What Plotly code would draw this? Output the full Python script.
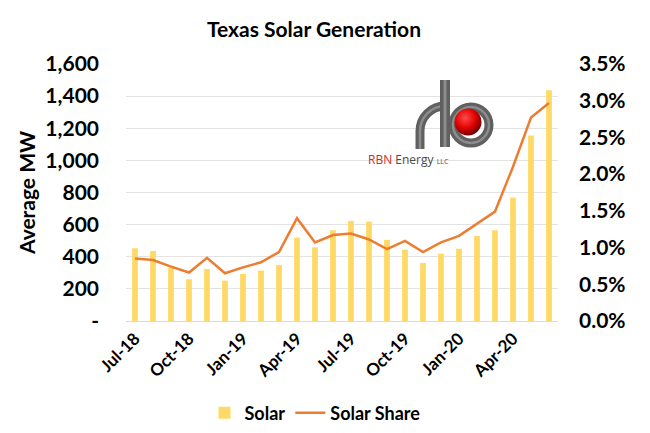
import base64
import plotly.graph_objects as go

months = ["Jul-18", "Aug-18", "Sep-18", "Oct-18", "Nov-18", "Dec-18",
          "Jan-19", "Feb-19", "Mar-19", "Apr-19", "May-19", "Jun-19",
          "Jul-19", "Aug-19", "Sep-19", "Oct-19", "Nov-19", "Dec-19",
          "Jan-20", "Feb-20", "Mar-20", "Apr-20", "May-20", "Jun-20"]
solar_mw = [453, 436, 330, 260, 324, 251, 293, 314, 349, 519, 459, 565,
            623, 619, 505, 444, 361, 419, 450, 530, 565, 768, 1155, 1437]
solar_share = [0.0085, 0.0083, 0.0074, 0.0066, 0.0086, 0.0065, 0.0073, 0.0080,
               0.0094, 0.0140, 0.0107, 0.0117, 0.0119, 0.0111, 0.0098, 0.0109,
               0.0094, 0.0107, 0.0116, 0.0133, 0.0149, 0.0210, 0.0277, 0.0297]
x_tick_labels = ["Jul-18", "Oct-18", "Jan-19", "Apr-19", "Jul-19", "Oct-19", "Jan-20", "Apr-20"]
y_tick_vals = [0, 200, 400, 600, 800, 1000, 1200, 1400, 1600]
y_tick_text = ["-", "200", "400", "600", "800", "1,000", "1,200", "1,400", "1,600"]
y2_tick_vals = [0, 0.005, 0.01, 0.015, 0.02, 0.025, 0.03, 0.035]
y2_tick_text = ["0.0%", "0.5%", "1.0%", "1.5%", "2.0%", "2.5%", "3.0%", "3.5%"]

FONT = "Lato"
W, H = 650, 433
ML, MR, MT, MB = 126, 92, 64, 112
PW, PH = W - ML - MR, H - MT - MB


def px2paper(px, py):
    return (px - ML) / PW, (H - MB - py) / PH


fig = go.Figure()
fig.add_trace(go.Bar(x=months, y=solar_mw, name="<b>Solar</b>", marker_color="#FFD966",
                     marker_line_width=0))
fig.add_trace(go.Scatter(x=months, y=solar_share, name="<b>Solar Share</b>", yaxis="y2",
                         mode="lines", line=dict(color="#ED7D31", width=2.5)))

# logo graphic (text kept as annotation)
svg = '''<svg xmlns="http://www.w3.org/2000/svg" width="95" height="80" viewBox="405 75 95 80">
<defs>
<radialGradient id="rg" cx="0.4" cy="0.35" r="0.7">
<stop offset="0" stop-color="#ff4a4a"/><stop offset="0.55" stop-color="#e00000"/><stop offset="1" stop-color="#5a0000"/>
</radialGradient>
</defs>
<circle cx="471" cy="125" r="18" fill="none" stroke="#606060" stroke-width="9"/>
<circle cx="471" cy="125" r="18" fill="none" stroke="#8c8c8c" stroke-width="2.5"/>
<path d="M420 149 L420 131 A25 25 0 0 1 445 106" fill="none" stroke="#606060" stroke-width="9"/>
<path d="M420 149 L420 131 A25 25 0 0 1 445 106" fill="none" stroke="#8c8c8c" stroke-width="2.5"/>
<path d="M445 80 L445 147" stroke="#606060" stroke-width="10"/>
<path d="M445 80 L445 147" stroke="#8c8c8c" stroke-width="3"/>
<circle cx="468" cy="122" r="13.5" fill="url(#rg)"/>
</svg>'''
src = "data:image/svg+xml;base64," + base64.b64encode(svg.encode()).decode()
x0, y0 = px2paper(405, 75)
x1, y1 = px2paper(500, 155)
fig.add_layout_image(dict(source=src, xref="paper", yref="paper", x=x0, y=y0,
                          sizex=x1 - x0, sizey=y0 - y1, xanchor="left", yanchor="top",
                          sizing="stretch", layer="above"))
tx, ty = px2paper(451, 159)
fig.add_annotation(xref="paper", yref="paper", x=tx, y=ty, showarrow=False,
                   text='<span style="color:#d42a2a">RBN</span> Energy <span style="font-size:7px">LLC</span>',
                   font=dict(family="Open Sans", size=12, color="#4a4a4a"))

fig.update_layout(
    width=W, height=H,
    margin=dict(l=ML, r=MR, t=MT, b=MB, autoexpand=False),
    paper_bgcolor="white", plot_bgcolor="white",
    font=dict(family=FONT, color="#000000"),
    title=dict(text="<b>Texas Solar Generation</b>", x=(314 - ML) / PW, xref="paper",
               xanchor="center", y=1 - 30 / H, yanchor="middle",
               font=dict(family=FONT, size=21, color="#000000")),
    bargap=0.68,
    showlegend=True,
    legend=dict(orientation="h", x=(315 - ML) / PW, xanchor="center",
                y=(H - MB - 413) / PH, yanchor="middle",
                font=dict(family=FONT, size=18, color="#000000"),
                itemwidth=30, tracegroupgap=0),
    xaxis=dict(type="category", tickmode="array", tickvals=x_tick_labels,
               ticktext=["<b>%s</b>" % t for t in x_tick_labels],
               tickangle=-45, tickfont=dict(family=FONT, size=17, color="#000000"),
               showgrid=False, showline=True, linecolor="#D9D9D9", linewidth=1,
               ticks="", range=[-0.5, len(months) - 0.5], automargin=False),
    yaxis=dict(range=[0, 1600], tickmode="array", tickvals=y_tick_vals,
               ticktext=["<b>%s</b>" % t for t in y_tick_text],
               tickfont=dict(family=FONT, size=21, color="#000000"),
               showgrid=True, gridcolor="#E3E3E3", gridwidth=1, zeroline=False,
               ticklabelstandoff=26, automargin=False,
               title=dict(text="<b>Average MW</b>", font=dict(family=FONT, size=21, color="#000000"),
                          standoff=4)),
    yaxis2=dict(range=[0, 0.035], overlaying="y", side="right", tickmode="array",
                tickvals=y2_tick_vals, ticktext=["<b>%s</b>" % t for t in y2_tick_text],
                tickfont=dict(family=FONT, size=21, color="#000000"),
                showgrid=False, zeroline=False, ticklabelstandoff=20, automargin=False),
)

fig.write_html("out.html")
